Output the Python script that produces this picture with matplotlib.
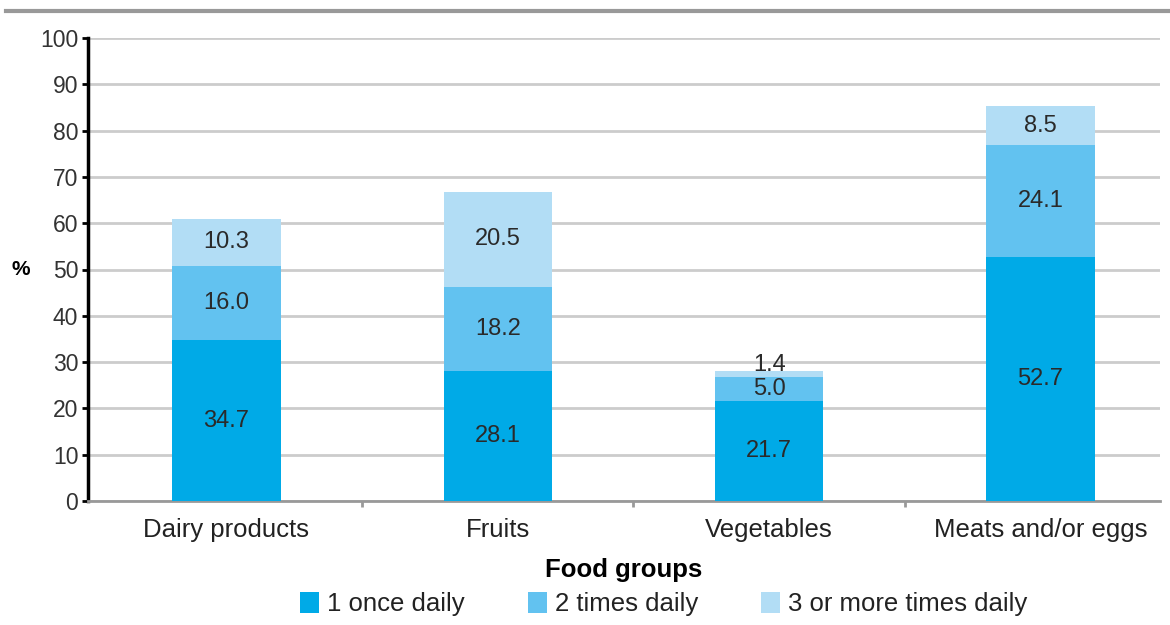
import matplotlib.pyplot as plt
import numpy as np

plt.rcParams['font.family'] = ['Liberation Sans', 'DejaVu Sans']

groups = ['Dairy products', 'Fruits', 'Vegetables', 'Meats and/or eggs']
once = [34.7, 28.1, 21.7, 52.7]
twice = [16.0, 18.2, 5.0, 24.1]
three = [10.3, 20.5, 1.4, 8.5]
series_names = ['1 once daily', '2 times daily', '3 or more times daily']
colors = ['#00aae7', '#62c2f0', '#b2ddf5']

fig = plt.figure(figsize=(11.7, 6.25), dpi=100)
ax = fig.add_axes([88 / 1170, 1 - 501 / 625, 1072 / 1170, 463 / 625])

x = np.arange(len(groups))
w = 0.4
bottom = np.zeros(len(groups))
for vals, col, name in zip([once, twice, three], colors, series_names):
    ax.bar(x, vals, w, bottom=bottom, color=col, label=name, zorder=3)
    for xi, b, v in zip(x, bottom, vals):
        if v < 3:
            ypos = b + v + 1.2
        else:
            ypos = b + v / 2
        ax.text(xi, ypos, f'{v:.1f}', ha='center', va='center',
                fontsize=17, color='#2a2a2a', zorder=4)
    bottom = bottom + np.array(vals)

ax.set_ylim(0, 100)
ax.set_xlim(-0.51, 3.44)
ax.set_yticks(np.arange(0, 101, 10))
ax.yaxis.grid(True, color='#cccccc', linewidth=2, zorder=0)
ax.tick_params(axis='y', labelsize=16.5, labelcolor='#333333', length=4,
               width=2, color='black', pad=3)

ax.set_xticks(x)
ax.set_xticklabels(groups, fontsize=18.5, color='#222222')
ax.tick_params(axis='x', length=0, pad=12)
ax.set_xticks([0.5, 1.5, 2.5], minor=True)
ax.tick_params(axis='x', which='minor', length=4, color='#999999', width=2)

for s in ['top', 'right']:
    ax.spines[s].set_visible(False)
ax.spines['left'].set_linewidth(2.5)
ax.spines['left'].set_color('black')
ax.spines['bottom'].set_color('#999999')
ax.spines['bottom'].set_linewidth(2)

ax.set_ylabel('%', rotation=0, fontsize=15, fontweight='bold', va='center')
ax.yaxis.set_label_coords(-0.063, 0.5)
ax.set_xlabel('Food groups', fontsize=18.5, fontweight='bold', labelpad=12)

ax.legend(loc='center', bbox_to_anchor=(0.537, -0.222), ncol=3,
          frameon=False, fontsize=18.5, handlelength=0.75, handleheight=0.9,
          columnspacing=2.45, handletextpad=0.3, labelcolor='#222222')

fig.add_artist(plt.Line2D([0.005, 1], [1 - 11 / 625, 1 - 11 / 625],
                          color='#999999', linewidth=3))

fig.savefig('out.png', dpi=100)
